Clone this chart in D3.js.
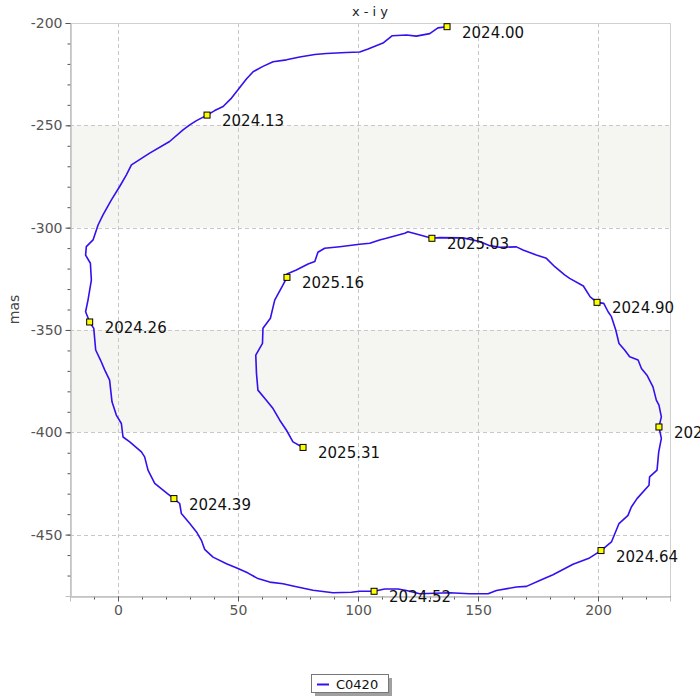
<!DOCTYPE html>
<html>
<head>
<meta charset="utf-8">
<script src="https://cdn.jsdelivr.net/npm/d3@7"></script>
<style>
html,body{margin:0;padding:0;background:#fff;}
svg{display:block;font-family:"DejaVu Sans",sans-serif;}
</style>
</head>
<body>
<svg id="chart" width="700" height="700"></svg>
<script>
// ---- data (mas) ----
const seriesName = "C0420";
const chartTitle = "x - i y";
const yAxisLabel = "mas";
const xVals = [137.1,133.3,129.9,124.3,120.2,114.3,110.4,104.2,100.7,95.2,86.8,82.0,75.7,70.2,64.6,60.4,56.3,53.5,50.0,47.3,43.8,40.3,37.1,32.7,29.9,27.1,21.5,13.2,5.6,3.5,0.7,-2.75,-6.25,-8.3,-10.4,-13.2,-13.5,-11.5,-11.1,-12.5,-13.5,-11.8,-10.1,-9.3,-7.3,-5.5,-3.5,-2.5,-0.7,1.4,2.1,4.9,9.75,11.1,12.5,15.3,20.2,23.3,25.7,26.4,29.9,32.7,34.75,36.1,39.6,45.2,50.0,54.2,58.3,63.2,68.75,72.9,81.25,89.6,97.25,100.7,106.7,111.1,116.7,120.2,125.7,138.2,146.5,154.2,157.7,166.0,170.2,175.7,181.25,189.6,196.5,201.25,205.6,208.75,212.5,213.9,216.25,221.25,221.5,224.6,225.3,226.4,225.4,226.4,225.4,224.3,222.9,220.4,218.1,216.7,213.2,211.1,208.75,207.4,205.6,204.2,202.4,199.6,196.75,193.9,188.2,186.1,182.0,178.5,174.3,168.75,166.0,159.0,154.9,150.7,143.75,134.0,130.8,124.3,120.8,119.5,111.8,109.0,104.9,100.7,92.4,86.1,83.3,82.0,79.2,74.3,70.4,70.4,68.75,65.3,63.5,60.4,60.2,57.4,57.7,58.3,61.8,64.6,67.4,70.2,72.9,77.1];
const yVals = [-201.8,-202.4,-205.2,-206.4,-205.9,-206.2,-209.8,-212.7,-214.2,-214.4,-214.9,-215.4,-216.6,-218.0,-218.9,-221.2,-223.8,-227.4,-232.6,-236.7,-240.8,-242.8,-245.0,-247.7,-249.8,-252.2,-257.9,-263.6,-269.3,-274.2,-279.9,-286.4,-293.8,-298.7,-306.0,-309.3,-313.4,-317.4,-325.6,-335.4,-341.1,-346.1,-349.2,-359.8,-364.7,-369.6,-374.5,-385.1,-391.6,-395.7,-402.3,-404.7,-409.6,-412.0,-418.5,-425.0,-429.6,-432.4,-434.8,-439.7,-444.6,-448.7,-452.8,-457.2,-461.0,-464.2,-466.6,-468.8,-471.5,-473.2,-474.0,-475.1,-477.2,-478.4,-478.2,-477.7,-477.7,-476.6,-476.6,-477.3,-478.9,-478.4,-478.9,-478.9,-477.3,-475.6,-475.3,-472.4,-469.6,-464.5,-461.4,-457.8,-453.6,-444.6,-440.6,-436.5,-432.4,-425.9,-421.8,-418.5,-409.6,-403.0,-397.4,-392.5,-386.7,-384.3,-377.8,-372.1,-368.8,-364.7,-363.1,-359.8,-356.6,-350.0,-343.5,-341.1,-337.0,-336.5,-333.8,-328.5,-324.8,-323.1,-319.1,-315.0,-313.4,-310.9,-309.4,-309.6,-308.8,-306.8,-305.0,-304.9,-305.2,-303.1,-302.0,-302.7,-305.2,-306.0,-307.6,-308.1,-309.3,-310.1,-312.0,-316.6,-317.8,-320.7,-322.6,-324.3,-328.0,-335.4,-344.3,-349.2,-356.6,-362.3,-371.2,-379.4,-384.3,-388.4,-394.1,-399.0,-404.7,-407.4];
const markerEpochs = ["2024.00","2024.13","2024.26","2024.39","2024.52","2024.64","2024.77","2024.90","2025.03","2025.16","2025.31"];
const markerX = [137.1,37.1,-11.8,23.3,106.7,201.25,225.4,199.6,130.8,70.4,77.1];
const markerY = [-201.8,-245.0,-346.1,-432.4,-477.7,-457.8,-397.4,-336.5,-305.2,-324.3,-407.4];
const xTicks = [0,50,100,150,200];
const yTicks = [-200,-250,-300,-350,-400,-450];
const yBands = [[-300,-250],[-400,-350]];

// ---- layout ----
const svg = d3.select("#chart");
const L = 70, R = 670, T = 23, B = 596;
const x = d3.scaleLinear().domain([-20, 230]).range([L, R]);
const y = d3.scaleLinear().domain([-480, -200]).range([B, T]);

// bands
svg.append("g").selectAll("rect").data(yBands).join("rect")
  .attr("x", L).attr("width", R - L)
  .attr("y", d => y(d[1])).attr("height", d => y(d[0]) - y(d[1]))
  .attr("fill", "#f5f5f1");

// grid
const grid = svg.append("g").attr("stroke", "#c8c8c8").attr("stroke-dasharray", "4,3").attr("stroke-width", 1);
grid.selectAll("line.v").data(xTicks).join("line").attr("class","v")
  .attr("x1", d => Math.round(x(d)) + 0.5).attr("x2", d => Math.round(x(d)) + 0.5)
  .attr("y1", T).attr("y2", B);
grid.selectAll("line.h").data(yTicks.filter(d => d !== -200)).join("line").attr("class","h")
  .attr("y1", d => Math.round(y(d)) + 0.5).attr("y2", d => Math.round(y(d)) + 0.5)
  .attr("x1", L).attr("x2", R);

// plot border
svg.append("rect").attr("x", L + 0.5).attr("y", T + 0.5).attr("width", R - L).attr("height", B - T)
  .attr("fill", "none").attr("stroke", "#d0d0d0");

// axes
const minorX = d3.range(-20, 231, 10);
const minorY = d3.range(-480, -199, 10);
const xAxisMinor = d3.axisBottom(x).tickValues(minorX).tickSize(3).tickFormat("");
const yAxisMinor = d3.axisLeft(y).tickValues(minorY).tickSize(3).tickFormat("");
const xAxis = d3.axisBottom(x).tickValues(xTicks).tickSize(5).tickPadding(4).tickFormat(d3.format("d"));
const yAxis = d3.axisLeft(y).tickValues(yTicks).tickSize(5).tickPadding(3).tickFormat(d => String(d).replace("−","-"));

function styleAxis(g){
  g.select(".domain").attr("stroke", "#c0c0c0");
  g.selectAll(".tick line").attr("stroke", "#555");
  g.selectAll(".tick text").attr("fill", "#555").attr("font-size", 14).attr("font-family", "DejaVu Sans, sans-serif");
}
svg.append("g").attr("transform", `translate(0,${B + 0.5})`).call(xAxisMinor).call(styleAxis);
svg.append("g").attr("transform", `translate(${L + 0.5},0)`).call(yAxisMinor).call(styleAxis);
svg.append("g").attr("transform", `translate(0,${B + 0.5})`).call(xAxis).call(styleAxis);
svg.append("g").attr("transform", `translate(${L + 0.5},0)`).call(yAxis).call(styleAxis);

// axis label
svg.append("text").attr("transform", `translate(19,${(T + B) / 2}) rotate(-90)`)
  .attr("text-anchor", "middle").attr("fill", "#444").attr("font-size", 14).text(yAxisLabel);

// title
svg.append("text").attr("x", (L + R) / 2).attr("y", 16).attr("text-anchor", "middle")
  .attr("fill", "#222").attr("font-size", 13).text(chartTitle);

// series line
const pts = xVals.map((v, i) => [v, yVals[i]]);
svg.append("path").datum(pts)
  .attr("d", d3.line().x(d => x(d[0])).y(d => y(d[1])))
  .attr("fill", "none").attr("stroke", "#3311ee").attr("stroke-width", 1.6).attr("stroke-linejoin", "round");

// markers & labels
const mk = markerEpochs.map((e, i) => ({e, x: markerX[i], y: markerY[i]}));
svg.append("g").selectAll("rect").data(mk).join("rect")
  .attr("x", d => x(d.x) - 3).attr("y", d => y(d.y) - 3).attr("width", 6).attr("height", 6)
  .attr("fill", "#ffff00").attr("stroke", "#000").attr("stroke-width", 1);
svg.append("g").selectAll("text").data(mk).join("text")
  .attr("x", d => x(d.x) + 15).attr("y", d => y(d.y) + 11)
  .attr("font-size", 15).attr("fill", "#111").text(d => d.e);

// legend
const lg = svg.append("g").attr("transform", "translate(311,674)");
lg.append("rect").attr("x", 4).attr("y", 4).attr("width", 77).attr("height", 18).attr("fill", "#a0a0a0");
lg.append("rect").attr("x", 0.5).attr("y", 0.5).attr("width", 77).attr("height", 18).attr("fill", "#fff").attr("stroke", "#777");
lg.append("line").attr("x1", 6).attr("x2", 18).attr("y1", 10.5).attr("y2", 10.5).attr("stroke", "#3311ee").attr("stroke-width", 2);
lg.append("text").attr("x", 25).attr("y", 15).attr("font-size", 13).attr("fill", "#111").text(seriesName);
</script>
</body>
</html>
